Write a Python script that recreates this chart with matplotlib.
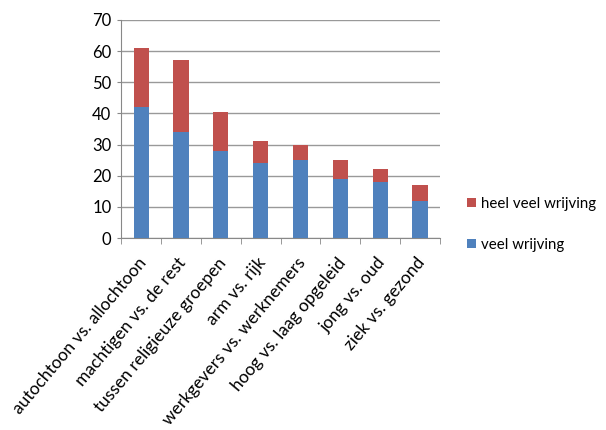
import matplotlib
matplotlib.use("Agg")
import matplotlib.pyplot as plt
import matplotlib.transforms as mtransforms
import numpy as np

categories = ["autochtoon vs. allochtoon", "machtigen vs. de rest", "tussen religieuze groepen",
              "arm vs. rijk", "werkgevers vs. werknemers", "hoog vs. laag opgeleid",
              "jong vs. oud", "ziek vs. gezond"]
veel = [42, 34, 28, 24, 25, 19, 18, 12]
heel_veel = [19, 23, 12.5, 7, 5, 6, 4, 5]
yticks = [0, 10, 20, 30, 40, 50, 60, 70]

plt.rcParams['font.family'] = ['Lato', 'DejaVu Sans']

fig = plt.figure(figsize=(6.06, 4.30), dpi=100)
ax = fig.add_axes([0.2, 0.4465, 0.526, 0.507])

x = np.arange(len(categories))
b1 = ax.bar(x, veel, width=0.38, color='#4F81BD', label='veel wrijving', zorder=3)
b2 = ax.bar(x, heel_veel, width=0.38, bottom=veel, color='#C0504D', label='heel veel wrijving', zorder=3)

ax.set_xlim(-0.5, len(categories) - 0.5)
ax.set_ylim(0, 70)
ax.set_yticks(yticks)
ax.tick_params(axis='y', labelsize=12, length=3, color='#888888', pad=4)
ax.yaxis.grid(True, color='#999999', linewidth=1, zorder=0)
ax.set_xticks(x)
ax.set_xticklabels(categories, rotation=50, ha='right', rotation_mode='anchor', fontsize=12.5)
ax.tick_params(axis='x', which='major', length=0, pad=12)
offset = mtransforms.ScaledTranslation(-4 / 100, 0, fig.dpi_scale_trans)
for lbl in ax.get_xticklabels():
    lbl.set_transform(lbl.get_transform() + offset)
ax.set_xticks(np.arange(-0.5, len(categories)), minor=True)
ax.tick_params(axis='x', which='minor', length=4, color='#888888')
for s in ['top', 'right']:
    ax.spines[s].set_visible(False)
for s in ['left', 'bottom']:
    ax.spines[s].set_color('#888888')

fig.legend(handles=[b2, b1], labels=['heel veel wrijving', 'veel wrijving'],
           loc='center left', bbox_to_anchor=(0.748, 0.478), frameon=False,
           fontsize=10.8, handlelength=0.6, handleheight=0.6, handletextpad=0.35,
           labelspacing=1.8)

fig.savefig('out.png', dpi=100)
